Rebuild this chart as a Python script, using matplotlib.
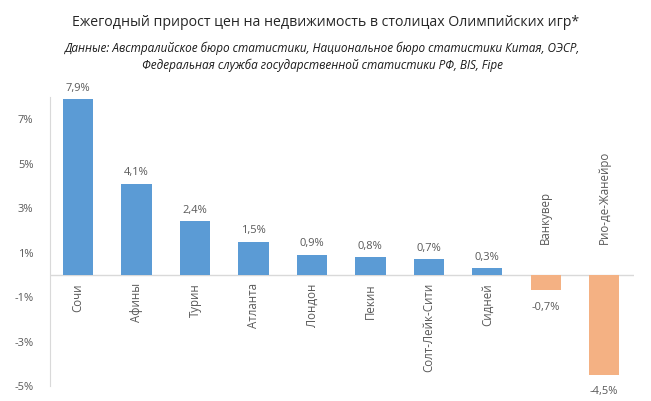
import matplotlib.pyplot as plt

cities = ["Сочи", "Афины", "Турин", "Атланта", "Лондон", "Пекин",
          "Солт-Лейк-Сити", "Сидней", "Ванкувер", "Рио-де-Жанейро"]
growth = [7.9, 4.1, 2.4, 1.5, 0.9, 0.8, 0.7, 0.3, -0.7, -4.5]
yticks = [-5, -3, -1, 1, 3, 5, 7]

plt.rcParams["font.family"] = ["Open Sans", "DejaVu Sans"]
txt = "#595959"
axc = "#d9d9d9"

fig = plt.figure(figsize=(6.51, 4.01), dpi=100)
ax = fig.add_axes([50 / 651, 0.0374, 584 / 651, 0.7207])

x = list(range(len(cities)))
colors = ["#5b9bd5" if v >= 0 else "#f4b183" for v in growth]
ax.bar(x, growth, width=0.52, color=colors, zorder=2)

ax.set_xlim(-0.48, len(cities) - 0.49)
ax.set_ylim(-5, 8)
ax.set_yticks(yticks)
ax.set_yticklabels([f"{t}%" for t in yticks], color=txt, fontsize=8)
ax.tick_params(axis="y", length=0, pad=12)
ax.set_xticks([])
for s in ["top", "right", "bottom"]:
    ax.spines[s].set_visible(False)
ax.spines["left"].set_color(axc)
ax.axhline(0, color=axc, lw=1, zorder=1)

for xi, v, name in zip(x, growth, cities):
    lab = f"{v:.1f}%".replace(".", ",")
    if v >= 0:
        ax.annotate(lab, (xi, v), xytext=(0, 4), textcoords="offset points",
                    ha="center", va="bottom", fontsize=8, color=txt)
        ax.annotate(name, (xi, 0), xytext=(0, -6), textcoords="offset points",
                    ha="center", va="top", rotation=90, fontsize=8.3, color=txt)
    else:
        ax.annotate(lab, (xi, v), xytext=(0, -8), textcoords="offset points",
                    ha="center", va="top", fontsize=8, color=txt)
        ax.annotate(name, (xi, 0), xytext=(0, 22), textcoords="offset points",
                    ha="center", va="bottom", rotation=90, fontsize=8.3, color=txt)

fig.text(0.5, 0.945, "Ежегодный прирост цен на недвижимость в столицах Олимпийских игр*",
         ha="center", va="center", fontsize=10.2, color="#262626")
fig.text(0.495, 0.88, "Данные: Австралийское бюро статистики, Национальное бюро статистики Китая, ОЭСР,",
         ha="center", va="center", fontsize=8.5, style="italic", color="#1a1a1a")
fig.text(0.495, 0.838, "Федеральная служба государственной статистики РФ, BIS, Fipe",
         ha="center", va="center", fontsize=8.5, style="italic", color="#1a1a1a")

fig.savefig("out.png", dpi=100)
